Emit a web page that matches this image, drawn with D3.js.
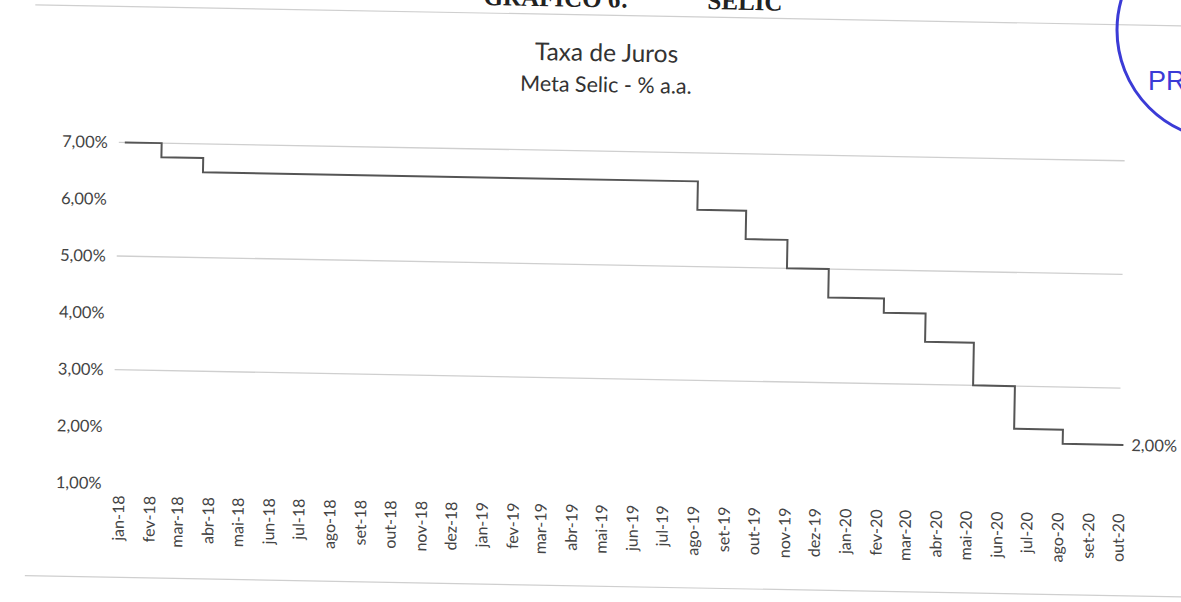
<!DOCTYPE html>
<html>
<head>
<meta charset="utf-8">
<script src="https://cdn.jsdelivr.net/npm/d3@7"></script>
<style>
  body { margin: 0; background: #fff; }
  text { font-family: Lato, "Open Sans", sans-serif; }
</style>
</head>
<body>
<script>
// meta selic - dates of each change and the new target rate
var changeDates = ["2018-01-01", "2018-02-07", "2018-03-21", "2019-07-31", "2019-09-18", "2019-10-30",
                   "2019-12-11", "2020-02-05", "2020-03-18", "2020-05-06", "2020-06-17", "2020-08-05"];
var rates = [7.00, 6.75, 6.50, 6.00, 5.50, 5.00, 4.50, 4.25, 3.75, 3.00, 2.25, 2.00];
var lastDate = "2020-10-05";

// month tick labels (pt-BR)
var monthNames = ["jan", "fev", "mar", "abr", "mai", "jun", "jul", "ago", "set", "out", "nov", "dez"];
var yTicks = [1, 2, 3, 4, 5, 6, 7];
var gridTicks = [3, 5, 7];   // only these show on the scan

var width = 1181, height = 602;
var parse = d3.timeParse("%Y-%m-%d");

var svg = d3.select("body").append("svg")
    .attr("width", width)
    .attr("height", height);

svg.append("rect").attr("width", width).attr("height", height).attr("fill", "#fff");

// the scanned page is tilted a little, so draw everything in a rotated group
var page = svg.append("g")
    .attr("transform", "rotate(1.05,590,300)");

// heading of the page, cut off at the top
page.append("text")
    .attr("x", 478).attr("y", 7)
    .style("font-family", "'Liberation Serif', serif")
    .style("font-weight", "bold")
    .style("font-size", "25px")
    .attr("fill", "#222")
    .text("GRÁFICO 6:");
page.append("text")
    .attr("x", 702).attr("y", 7)
    .style("font-family", "'Liberation Serif', serif")
    .style("font-weight", "bold")
    .style("font-size", "25px")
    .attr("fill", "#222")
    .text("SELIC");

// chart frame (only top and bottom edges show)
page.selectAll(".frame")
    .data([15, 586])
    .enter()
    .append("line")
    .attr("class", "frame")
    .attr("x1", 30).attr("x2", 1230)
    .attr("y1", function(d){ return d; })
    .attr("y2", function(d){ return d; })
    .attr("stroke", "#cfcfcf")
    .attr("stroke-width", 1.2);

// titles
page.append("text")
    .attr("x", 602).attr("y", 61)
    .attr("text-anchor", "middle")
    .style("font-size", "24.5px")
    .attr("fill", "#333")
    .text("Taxa de Juros");
page.append("text")
    .attr("x", 602).attr("y", 92)
    .attr("text-anchor", "middle")
    .style("font-size", "21.5px")
    .attr("fill", "#333")
    .text("Meta Selic - % a.a.");

var x = d3.scaleTime()
    .domain([parse("2018-01-01"), parse("2020-10-01")])
    .range([122, 1122]);

var y = d3.scaleLinear()
    .domain([1, 7])
    .range([492, 151]);

// gridlines
page.selectAll(".grid")
    .data(gridTicks)
    .enter()
    .append("line")
    .attr("class", "grid")
    .attr("x1", 116).attr("x2", 1122)
    .attr("y1", function(d){ return y(d); })
    .attr("y2", function(d){ return y(d); })
    .attr("stroke", "#cfcfcf")
    .attr("stroke-width", 1.3);

// y axis labels
var yAxis = d3.axisLeft(y)
    .tickValues(yTicks)
    .tickSize(0)
    .tickPadding(0)
    .tickFormat(function(d){ return d3.format(".2f")(d).replace(".", ",") + "%"; });

var yG = page.append("g")
    .attr("transform", "translate(105,0)")
    .call(yAxis);
yG.select(".domain").remove();
yG.selectAll("text")
    .style("font-family", "Lato, sans-serif")
    .style("font-size", "16.5px")
    .attr("fill", "#444");

// x axis labels, one per month
var months = d3.timeMonth.range(parse("2018-01-01"), parse("2020-10-02"));
var xAxis = d3.axisBottom(x)
    .tickValues(months)
    .tickSize(0)
    .tickFormat(function(d){ return monthNames[d.getMonth()] + "-" + d3.timeFormat("%y")(d); });

var xG = page.append("g")
    .attr("transform", "translate(0,492)")
    .call(xAxis);
xG.select(".domain").remove();
xG.selectAll("text")
    .style("font-family", "Lato, sans-serif")
    .style("font-size", "16px")
    .attr("fill", "#444")
    .attr("text-anchor", "end")
    .attr("transform", "rotate(-90)")
    .attr("x", -12)
    .attr("y", 0)
    .attr("dy", "0.35em");

// step line
var series = changeDates.map(function(d, i){ return {date: parse(d), rate: rates[i]}; });
series.push({date: parse(lastDate), rate: rates[rates.length - 1]});

var line = d3.line()
    .curve(d3.curveStepAfter)
    .x(function(d){ return x(d.date); })
    .y(function(d){ return y(d.rate); });

page.append("path")
    .datum(series)
    .attr("d", line)
    .attr("fill", "none")
    .attr("stroke", "#555")
    .attr("stroke-width", 2);

// label at the end of the line
var last = series[series.length - 1];
page.append("text")
    .attr("x", x(last.date) + 8)
    .attr("y", y(last.rate))
    .attr("dy", "0.35em")
    .style("font-size", "16.5px")
    .attr("fill", "#444")
    .text(d3.format(".2f")(last.rate).replace(".", ",") + "%");

// blue stamp in the corner of the scan
svg.append("circle")
    .attr("cx", 1227).attr("cy", 30).attr("r", 110)
    .attr("fill", "none")
    .attr("stroke", "#3b3bd6")
    .attr("stroke-width", 3);
svg.append("text")
    .attr("x", 1148).attr("y", 90)
    .style("font-family", "'Liberation Sans', sans-serif")
    .style("font-size", "27px")
    .attr("fill", "#3b3bd6")
    .text("PR");
</script>
</body>
</html>
